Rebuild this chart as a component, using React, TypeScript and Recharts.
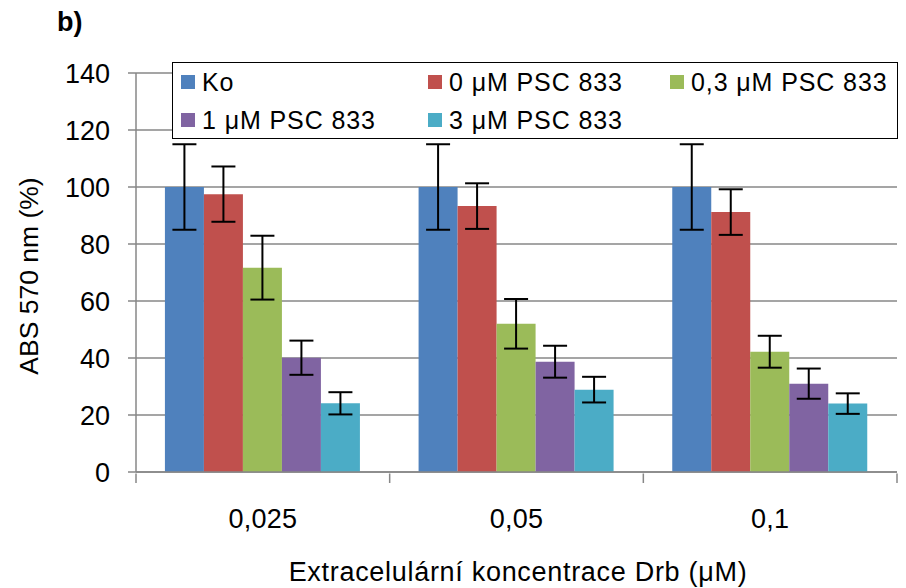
import React from 'react';
import { BarChart, Bar, XAxis, YAxis, CartesianGrid, Legend, ErrorBar } from 'recharts';

const categories = ['0,025', '0,05', '0,1'];

const seriesNames = ['Ko', '0 μM PSC 833', '0,3 μM PSC 833', '1 μM PSC 833', '3 μM PSC 833'];
const seriesColors = ['#4F81BD', '#C0504D', '#9BBB59', '#8064A2', '#4BACC6'];

const koValues = [100, 100, 100];
const koErrors = [15, 15, 15];
const psc0Values = [97.5, 93.3, 91.2];
const psc0Errors = [9.7, 8, 8];
const psc03Values = [71.7, 52, 42.2];
const psc03Errors = [11.2, 8.7, 5.6];
const psc1Values = [40.1, 38.7, 31];
const psc1Errors = [6, 5.6, 5.3];
const psc3Values = [24.1, 28.9, 24];
const psc3Errors = [3.9, 4.5, 3.6];

const yTicks = [0, 20, 40, 60, 80, 100, 120, 140];

const seriesValues = [koValues, psc0Values, psc03Values, psc1Values, psc3Values];
const seriesErrors = [koErrors, psc0Errors, psc03Errors, psc1Errors, psc3Errors];

const data = categories.map((name, i) => {
  const row: Record<string, string | number> = { name };
  seriesValues.forEach((vals, s) => {
    row[`s${s}`] = vals[i];
    row[`e${s}`] = seriesErrors[s][i];
  });
  return row;
});

const FONT = '"Liberation Sans", Arial, sans-serif';
const GRID = '#878787';

// category label in the middle, tick marks on the band edges
const CategoryTick = (props: any) => {
  const { x, y, payload, index } = props;
  const half = payload?.offset || 127;
  const top = y - 9;
  return (
    <g>
      <line x1={x - half} y1={top - 0.5} x2={x - half} y2={top + 9} stroke={GRID} strokeWidth={1.5} />
      {index === categories.length - 1 && (
        <line x1={x + half} y1={top - 0.5} x2={x + half} y2={top + 9} stroke={GRID} strokeWidth={1.5} />
      )}
      <text x={x} y={top + 35} textAnchor="middle" dominantBaseline="hanging" fontSize={27} letterSpacing={0.2} fill="#000" fontFamily={FONT}>
        {payload.value}
      </text>
    </g>
  );
};

const LegendBox = () => (
  <div
    style={{
      width: 726,
      height: 77,
      border: '1.5px solid #000',
      background: '#fff',
      boxSizing: 'border-box',
      display: 'grid',
      gridTemplateColumns: '247px 242px 230px',
      gridTemplateRows: '38px 38px',
      paddingLeft: 8,
      fontFamily: FONT,
      fontSize: 25,
      letterSpacing: 0.9,
    }}
  >
    {seriesNames.map((n, i) => (
      <div key={n} style={{ display: 'flex', alignItems: 'center', whiteSpace: 'nowrap' }}>
        <span style={{ width: 14, height: 14, background: seriesColors[i], marginRight: 7, flex: 'none' }} />
        <span>{n}</span>
      </div>
    ))}
  </div>
);

export default function App() {
  return (
    <div style={{ position: 'relative', width: 906, height: 588, background: '#fff' }}>
      <style>{'body{margin:0}'}</style>
      <div style={{ position: 'absolute', left: 57, top: 7, fontFamily: FONT, fontWeight: 'bold', fontSize: 27 }}>b)</div>
      <BarChart
        width={906}
        height={588}
        data={data}
        margin={{ top: 73, right: 9, left: 0, bottom: 0 }}
        barCategoryGap="11.4%"
        barGap={0}
      >
        <CartesianGrid vertical={false} stroke={GRID} strokeWidth={1.5} />
        <XAxis
          dataKey="name"
          height={116}
          axisLine={{ stroke: GRID, strokeWidth: 1.5 }}
          tickLine={false}
          tickSize={9}
          tick={<CategoryTick />}
          interval={0}
          label={{
            content: () => (
              <text x={518} y={572} textAnchor="middle" dominantBaseline="central" fontSize={27} letterSpacing={0.7} fontFamily={FONT} fill="#000">
                Extracelulární koncentrace Drb (μM)
              </text>
            ),
          }}
        />
        <YAxis
          width={136}
          domain={[0, 140]}
          ticks={yTicks}
          interval={0}
          axisLine={{ stroke: GRID, strokeWidth: 1.5 }}
          tickLine={{ stroke: GRID, strokeWidth: 1.5 }}
          tickSize={8}
          tickMargin={18}
          tick={{ fontSize: 27, fill: '#000', fontFamily: FONT }}
          label={{
            content: () => (
              <text x={29} y={276} transform="rotate(-90 29 276)" textAnchor="middle" dominantBaseline="central" fontSize={26.5} fontFamily={FONT} fill="#000">
                ABS 570 nm (%)
              </text>
            ),
          }}
        />
        <Legend
          layout="vertical"
          align="center"
          verticalAlign="middle"
          wrapperStyle={{ left: 172, top: 62, width: 726 }}
          content={<LegendBox />}
        />
        {seriesNames.map((n, s) => (
          <Bar key={n} dataKey={`s${s}`} name={n} fill={seriesColors[s]} isAnimationActive={false}>
            <ErrorBar dataKey={`e${s}`} width={12} stroke="#000" strokeWidth={2} direction="y" />
          </Bar>
        ))}
      </BarChart>
    </div>
  );
}
